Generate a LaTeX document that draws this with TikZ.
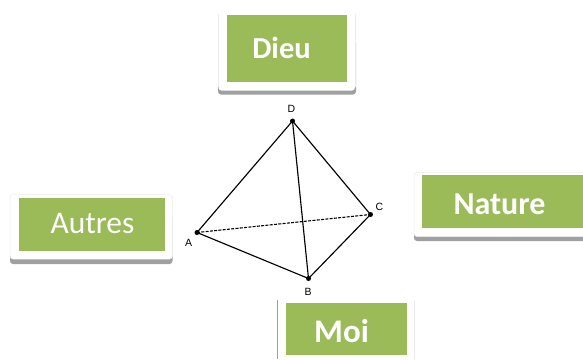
\documentclass[tikz,border=0pt]{standalone}
\usepackage{fontspec}
\setmainfont{Carlito}
\newfontfamily\lblfont{Liberation Sans}
\definecolor{boxgreen}{HTML}{9BBB59}
\definecolor{shadowgray}{HTML}{A0A0A0}
\begin{document}
\begin{tikzpicture}[x=1pt,y=-1pt,
  greenbox/.style={fill=boxgreen,draw=none,inner sep=0pt,outer sep=0pt,text=white,minimum height=0pt},
  frameshadow/.style={fill=shadowgray,draw=none,rounded corners=3pt},
  framewhite/.style={fill=white,draw=black!8,line width=0.5pt,rounded corners=3pt},
  vertexdot/.style={circle,fill=black,inner sep=0pt,minimum size=5pt},
  vertexlabel/.style={font=\lblfont\fontsize{10.5}{12}\selectfont,text=black,inner sep=0pt},
  edgeline/.style={black,line width=1.15pt},
  boldlabel/.style={font=\bfseries\fontsize{30.5}{32}\selectfont,text=white,inner sep=0pt},
  reglabel/.style={font=\fontsize{31.5}{33}\selectfont,text=white,inner sep=0pt}]
\useasboundingbox (0,0) rectangle (583,359);
% Dieu
\fill[frameshadow] (218,40) rectangle (356,94.5);
\fill[fill=white,rounded corners=3pt] (218.5,10) rectangle (355,90.5);
\draw[black!8,line width=0.5pt] (218.5,14) -- (218.5,87);
\draw[black!8,line width=0.5pt] (355,14) -- (355,87);
\fill[greenbox] (226.5,15) rectangle (347,82);
\node[boldlabel] (dieu) at (281.5,48) {Dieu};
% Autres
\fill[frameshadow] (10,215) rectangle (172.5,264);
\fill[framewhite] (10,194.5) rectangle (172.5,259);
\fill[greenbox] (18.5,197.5) rectangle (165,250.5);
\node[reglabel] (autres) at (92.5,223.5) {Autres};
% Nature
\fill[frameshadow] (414,200) rectangle (590,241);
\fill[framewhite] (414,172.5) rectangle (590,236.5);
\fill[greenbox] (422,175) rectangle (583,228);
\node[font=\bfseries\fontsize{32}{34}\selectfont,text=white,inner sep=0pt] (nature) at (499.5,204) {Nature};
% Moi
\draw[shadowgray,line width=0.8pt] (277.7,300) -- (277.7,359);
\draw[black!8,line width=0.5pt] (414.5,300) -- (414.5,359);
\fill[greenbox] (286,302.5) rectangle (407,355);
\node[font=\bfseries\fontsize{33}{35}\selectfont,text=white,inner sep=0pt] (moi) at (341.5,331) {Moi};
% Tetrahedron
\node[vertexdot] (A) at (197,232.5) {};
\node[vertexdot] (B) at (308.5,278.5) {};
\node[vertexdot] (C) at (370.5,214.5) {};
\node[vertexdot] (D) at (292.5,121) {};
\draw[edgeline] (D.center) -- (A.center);
\draw[edgeline] (D.center) -- (B.center);
\draw[edgeline] (D.center) -- (C.center);
\draw[edgeline] (A.center) -- (B.center);
\draw[edgeline] (B.center) -- (C.center);
\draw[black,line width=1.1pt,dash pattern=on 3pt off 1.3pt] (A.center) -- (C.center);
\node[vertexlabel] (la) at (188.5,243) {A};
\node[vertexlabel] (lb) at (308,291.5) {B};
\node[vertexlabel] (lc) at (379.5,207) {C};
\node[vertexlabel] (ld) at (291.5,108.5) {D};
\end{tikzpicture}
\end{document}
